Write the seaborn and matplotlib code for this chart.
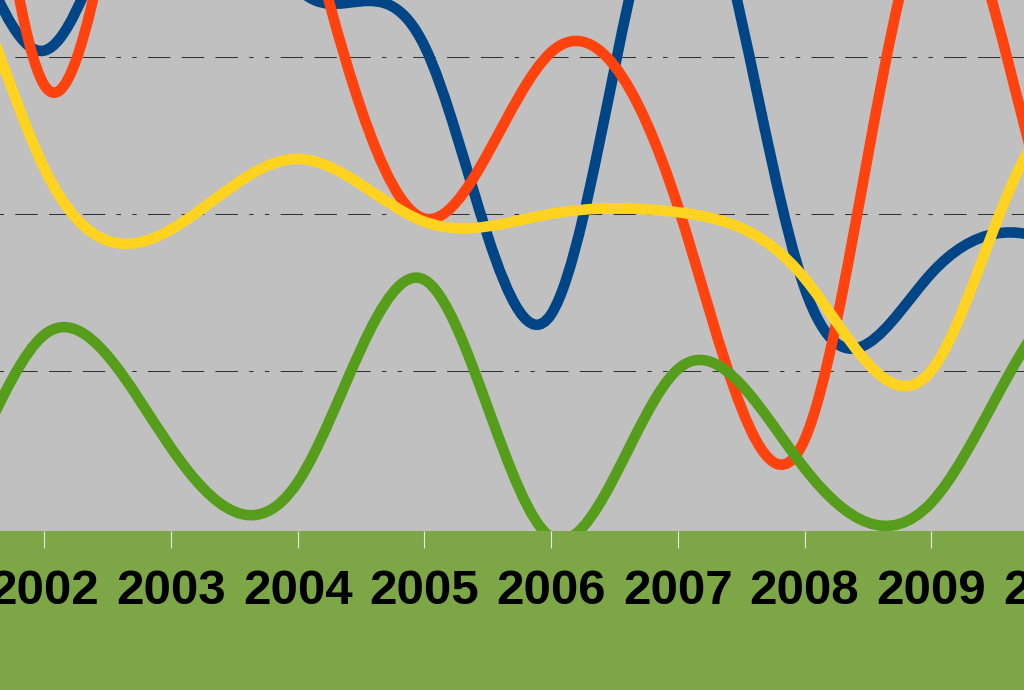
import numpy as np
import matplotlib
matplotlib.use("Agg")
import matplotlib.pyplot as plt
from matplotlib.path import Path
from matplotlib.patches import PathPatch
import seaborn as sns

# yearly values (the chart is a close crop, so 2000/2001 and
# 2010/2011 sit outside the picture and some points run off the top)
years = [2000, 2001, 2002, 2003, 2004, 2005, 2006, 2007, 2008, 2009, 2010, 2011]
blue = [26.8, 43.5, 30.4, 46.1, 34.4, 30.7, 13.6, 42.8, 15.3, 16.2, 18.0, 10.6]
orange = [23.5, 70.3, 28.2, 56.1, 41.2, 19.7, 30.3, 20.5, 5.6, 39.8, 18.4, 19.5]
yellow = [10.8, 38.6, 22.9, 19.0, 23.5, 19.5, 20.0, 20.1, 15.9, 10.0, 25.6, -1.0]
green = [17.4, 0.0, 12.3, 5.1, 2.9, 15.8, -0.6, 10.1, 3.8, 1.6, 14.2, 11.2]
tick_labels = [str(y) for y in years]

colors = ["#004586", "#ff420e", "#ffd320", "#579d1c"]


# -------------------------
# smoothed lines: natural cubic spline through the yearly points,
# drawn as bezier segments (exact for a cubic in x)
# -------------------------
def second_derivs(x, y):
    n = len(x)
    h = np.diff(x)
    A = np.zeros((n, n))
    r = np.zeros(n)
    A[0, 0] = 1
    A[-1, -1] = 1
    for i in range(1, n - 1):
        A[i, i - 1] = h[i - 1]
        A[i, i] = 2 * (h[i - 1] + h[i])
        A[i, i + 1] = h[i]
        r[i] = 6 * ((y[i + 1] - y[i]) / h[i] - (y[i] - y[i - 1]) / h[i - 1])
    return np.linalg.solve(A, r)


def spline_path(x, y):
    x = np.asarray(x, dtype=float)
    y = np.asarray(y, dtype=float)
    M = second_derivs(x, y)
    verts = [(x[0], y[0])]
    codes = [Path.MOVETO]
    for i in range(len(x) - 1):
        h = x[i + 1] - x[i]
        d = (y[i + 1] - y[i]) / h
        s0 = d - h * (2 * M[i] + M[i + 1]) / 6
        s1 = d + h * (M[i] + 2 * M[i + 1]) / 6
        verts += [
            (x[i] + h / 3, y[i] + s0 * h / 3),
            (x[i + 1] - h / 3, y[i + 1] - s1 * h / 3),
            (x[i + 1], y[i + 1]),
        ]
        codes += [Path.CURVE4] * 3
    return Path(verts, codes)


sns.set_theme(style="white")
plt.rcParams["font.family"] = ["Liberation Sans", "DejaVu Sans"]

# figure is 1024x690 px; the axes reach past the figure edges like the cropped original
W, H = 1024, 690
fig = plt.figure(figsize=(W / 100, H / 100), dpi=100, facecolor="#7da647")
x0, x1 = 2000, 2011
y0, y1 = -0.2, 80
px_year, px_unit = 126.7, 15.7
left_px = 44.3 - px_year * (2002 - x0)
ax = fig.add_axes(
    [left_px / W, (H - 531) / H, px_year * (x1 - x0) / W, px_unit * (y1 - y0) / H]
)
ax.set_facecolor("#c0c0c0")
ax.set_xlim(x0, x1)
ax.set_ylim(y0, y1)
for s in ax.spines.values():
    s.set_visible(False)

for vals, c in zip([blue, orange, yellow, green], colors):
    ax.add_patch(
        PathPatch(spline_path(years, vals), fill=False, edgecolor=c, lw=7.6, capstyle="round")
    )

ax.set_xticks(years)
ax.set_xticklabels(tick_labels, fontsize=35.5, fontweight="bold", color="black")
ax.tick_params(
    axis="x", bottom=True, direction="out", length=12.2, width=0.8, color="#e6ecdc", pad=15
)
ax.set_yticks([10, 20, 30])
ax.tick_params(axis="y", left=False, length=0, labelleft=False)
ax.grid(
    axis="y",
    color="#333333",
    lw=0.75,
    linestyle=(112.3, (21.6, 10.8, 21.6, 10.8, 21.6, 10.8, 4.3, 10.8, 4.3, 10.8)),
)
ax.set_axisbelow(True)

fig.savefig("out.png", dpi=100, facecolor=fig.get_facecolor())
